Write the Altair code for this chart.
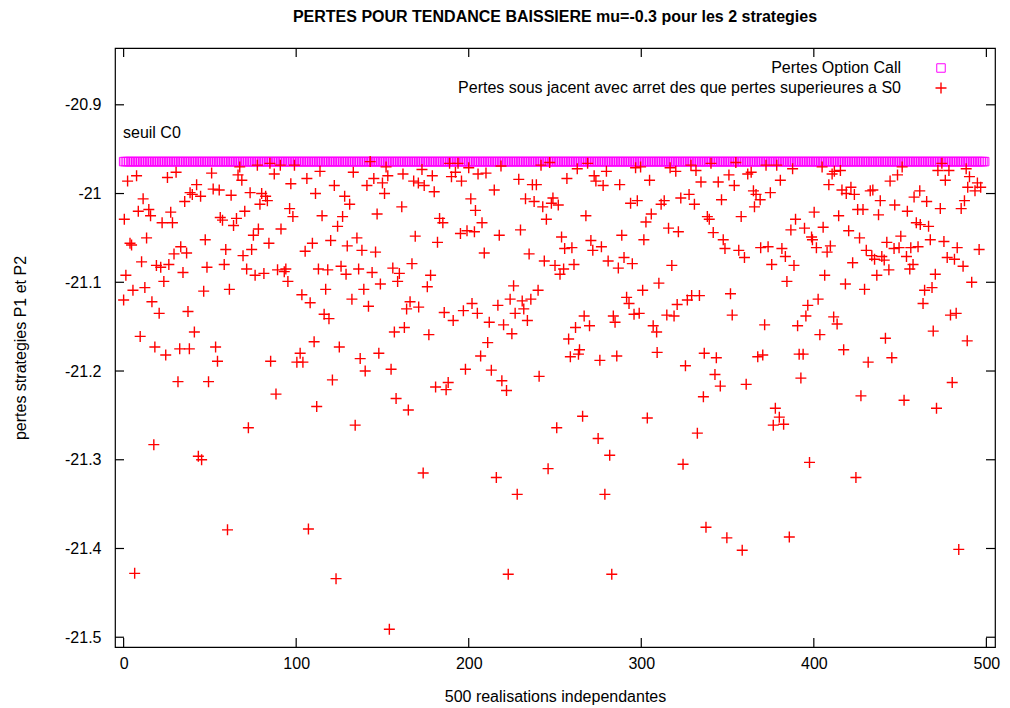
import altair as alt
import pandas as pd

# ---------------- data ----------------
title_text = "PERTES POUR TENDANCE BAISSIERE mu=-0.3 pour les 2 strategies"
x_title = "500 realisations independantes"
y_title = "pertes strategies P1 et P2"
legend_labels = ["Pertes Option Call",
                 "Pertes sous jacent avec arret des que pertes superieures a S0"]
seuil_label = "seuil C0"

x_ticks = [0, 100, 200, 300, 400, 500]
y_ticks = [-21.5, -21.4, -21.3, -21.2, -21.1, -21.0, -20.9]

# Option call losses: constant level for the 500 realisations
call_x = list(range(500))
call_level = -20.964
call_y = [call_level] * 500

# Underlying losses (red +)
red_x = [
 2.3,7.5,25.4,30.4,38.5,39.8,11.3,35.4,8.5,14.6,15.6,27.3,0.4,22.3,28.3,13.3,3.7,4.6,33.1,29.2,36.5,10.4,19.0,21.5,26.2,34.4,1.3,23.3,5.4,12.3,0.0,16.4,20.6,37.3,9.6,18.1,24.4,32.5,38.1,31.5,17.5,6.4,
 67.3,77.5,84.8,51.0,66.3,68.5,42.3,44.6,51.9,55.4,62.3,73.3,80.0,82.3,83.3,79.0,70.2,56.0,57.3,65.4,63.7,78.1,75.2,47.3,84.2,59.2,74.2,69.2,48.3,58.3,71.3,76.2,81.3,46.4,61.3,41.0,53.3,54.4,85.2,49.2,72.3,43.3,45.2,60.2,
 90.8,99.0,87.3,113.8,106.2,96.9,122.1,111.2,128.1,96.2,98.1,115.0,126.9,91.2,124.0,109.4,105.2,120.0,129.6,89.2,94.0,93.1,112.9,118.3,126.0,128.9,95.2,103.3,108.1,117.1,116.2,119.0,110.4,125.0,102.3,100.4,103.9,121.0,88.3,111.9,107.1,123.1,
 142.9,133.1,152.1,145.0,153.1,161.9,172.9,141.0,150.0,168.1,170.8,174.2,151.2,131.0,161.2,146.9,135.2,169.0,138.1,146.0,167.1,136.2,144.0,156.0,159.8,158.8,148.8,139.2,132.3,141.9,166.0,164.0,171.0,156.9,162.7,137.1,147.9,140.0,155.0,157.9,165.0,134.2,173.6,154.0,
 188.9,193.8,200.0,218.7,178.9,190.0,192.3,195.8,205.4,210.0,180.0,214.8,201.2,203.9,183.1,185.0,207.7,195.2,199.0,203.3,217.7,181.9,209.0,177.9,176.0,201.9,216.9,185.8,196.9,205.0,191.0,211.9,220.2,176.9,211.0,206.9,198.1,213.1,219.2,180.8,188.1,186.9,216.0,
 241.9,246.9,262.9,229.0,256.9,236.9,239.2,232.9,237.9,242.9,248.8,247.9,251.9,245.0,230.0,253.8,255.6,259.8,235.0,243.8,250.0,255.0,252.9,261.0,226.0,240.2,224.0,231.0,236.0,231.9,226.9,234.0,225.0,261.9,257.9,264.2,263.6,258.9,240.8,221.9,251.0,246.0,228.1,222.9,
 268.9,279.8,296.7,299.6,272.7,273.7,277.9,287.5,304.8,293.8,297.7,267.9,305.8,302.7,288.7,270.8,271.9,276.9,301.5,280.8,286.7,290.0,294.8,310.2,300.8,291.5,292.9,266.9,283.8,284.8,295.8,298.8,270.0,306.9,308.9,309.2,276.0,285.8,266.0,303.5,275.0,281.7,278.9,282.9,
 316.7,320.0,328.8,331.7,340.4,354.8,350.8,353.9,334.6,344.6,322.9,327.7,330.8,311.5,313.3,346.5,338.3,339.4,315.8,321.5,341.7,347.5,348.5,317.7,320.8,326.7,329.2,333.7,351.7,314.8,319.0,352.7,336.5,343.5,325.6,342.7,345.8,336.0,332.5,324.2,337.5,349.6,
 372.3,378.5,387.7,361.7,363.7,380.6,365.0,366.5,368.9,365.6,374.8,357.9,389.4,400.2,386.7,394.6,398.7,399.2,356.5,359.8,369.2,373.5,381.5,383.5,375.6,388.5,384.4,396.5,395.4,371.5,390.6,391.5,393.8,367.5,370.4,392.5,360.8,377.7,380.0,376.5,382.5,397.5,385.8,358.5,
 404.8,410.6,411.9,415.4,444.2,408.7,416.3,418.8,421.5,423.5,432.7,434.2,438.5,414.4,425.4,428.5,437.5,405.4,420.2,426.5,401.5,409.6,407.7,442.3,430.4,433.6,435.2,439.4,440.8,422.5,443.5,406.3,436.5,418.3,429.4,402.5,411.5,413.5,403.5,441.5,417.3,431.5,445.2,427.3,424.4,
 451.2,448.5,471.9,474.2,478.3,488.3,476.2,490.2,489.2,461.4,458.1,465.4,446.9,454.2,473.3,485.4,487.3,459.4,461.7,466.5,450.4,446.5,449.4,456.2,460.4,467.5,475.4,483.1,453.7,477.3,481.5,457.5,455.6,486.5,470.4,464.2,468.5,463.3,479.2,482.5,469.2,488.9,480.2,452.3,471.1,484.0,
 494.8,496.7,493.4,495.8,491.5,
]
red_y = [
 -20.986,-20.980,-20.982,-20.976,-20.999,-21.001,-21.006,-21.009,-21.020,-21.018,-21.025,-21.021,-21.029,-21.033,-21.033,-21.050,-21.056,-21.058,-21.060,-21.068,-21.067,-21.077,-21.081,-21.083,-21.080,-21.089,-21.092,-21.099,-21.109,-21.106,-21.120,-21.122,-21.135,-21.133,-21.161,-21.173,-21.182,-21.175,-21.175,-21.212,-21.283,-21.428,
 -20.970,-20.968,-20.966,-20.977,-20.979,-20.985,-20.990,-21.003,-20.995,-20.996,-21.002,-20.999,-21.000,-21.003,-21.008,-21.012,-21.020,-21.027,-21.030,-21.028,-21.036,-21.040,-21.047,-21.052,-21.056,-21.063,-21.063,-21.070,-21.083,-21.080,-21.085,-21.092,-21.090,-21.110,-21.108,-21.156,-21.173,-21.189,-21.189,-21.212,-21.264,-21.296,-21.300,-21.379,
 -20.968,-20.968,-20.978,-20.975,-20.983,-20.989,-20.991,-21.000,-21.003,-21.017,-21.026,-21.025,-21.026,-21.040,-21.037,-21.056,-21.065,-21.053,-21.059,-21.086,-21.085,-21.088,-21.085,-21.086,-21.082,-21.091,-21.099,-21.114,-21.123,-21.108,-21.136,-21.141,-21.167,-21.173,-21.180,-21.190,-21.190,-21.210,-21.226,-21.240,-21.378,-21.434,
 -20.964,-20.976,-20.970,-20.983,-20.980,-20.978,-20.973,-20.991,-20.988,-20.986,-20.988,-20.991,-21.000,-21.012,-21.015,-21.023,-21.050,-21.048,-21.064,-21.066,-21.079,-21.085,-21.089,-21.084,-21.090,-21.099,-21.102,-21.108,-21.119,-21.127,-21.122,-21.130,-21.128,-21.156,-21.151,-21.186,-21.180,-21.200,-21.198,-21.231,-21.244,-21.261,-21.315,-21.491,
 -20.966,-20.966,-20.971,-20.969,-20.980,-20.981,-20.976,-20.986,-20.978,-20.977,-20.998,-20.996,-21.006,-21.019,-21.028,-21.033,-21.033,-21.045,-21.042,-21.043,-21.047,-21.055,-21.067,-21.092,-21.105,-21.124,-21.126,-21.134,-21.132,-21.135,-21.143,-21.145,-21.148,-21.159,-21.168,-21.183,-21.198,-21.199,-21.211,-21.218,-21.213,-21.221,-21.320,
 -20.968,-20.965,-20.972,-20.984,-20.983,-20.990,-20.990,-21.006,-21.009,-21.015,-21.005,-21.011,-21.013,-21.029,-21.041,-21.049,-21.062,-21.061,-21.068,-21.076,-21.081,-21.085,-21.091,-21.080,-21.104,-21.109,-21.119,-21.121,-21.119,-21.130,-21.135,-21.143,-21.158,-21.151,-21.164,-21.176,-21.181,-21.184,-21.206,-21.222,-21.264,-21.310,-21.339,-21.429,
 -20.966,-20.975,-20.971,-20.970,-20.980,-20.986,-20.991,-20.990,-20.985,-21.011,-21.008,-21.025,-21.023,-21.032,-21.047,-21.053,-21.064,-21.060,-21.052,-21.076,-21.084,-21.072,-21.079,-21.101,-21.109,-21.117,-21.124,-21.138,-21.138,-21.145,-21.136,-21.135,-21.149,-21.149,-21.156,-21.179,-21.188,-21.183,-21.251,-21.253,-21.276,-21.295,-21.339,-21.429,
 -20.971,-20.975,-20.968,-20.974,-20.966,-20.965,-20.979,-20.991,-20.987,-20.987,-21.005,-21.001,-21.012,-21.012,-21.008,-21.007,-21.026,-21.029,-21.039,-21.043,-21.044,-21.052,-21.062,-21.081,-21.125,-21.120,-21.115,-21.115,-21.113,-21.137,-21.138,-21.137,-21.180,-21.185,-21.194,-21.204,-21.217,-21.229,-21.270,-21.305,-21.376,-21.388,
 -20.968,-20.968,-20.972,-20.978,-20.976,-20.985,-20.997,-21.001,-21.007,-21.015,-20.999,-21.026,-21.029,-21.021,-21.041,-21.039,-21.049,-21.052,-21.064,-21.072,-21.061,-21.060,-21.062,-21.071,-21.080,-21.081,-21.099,-21.126,-21.138,-21.148,-21.149,-21.181,-21.181,-21.184,-21.182,-21.208,-21.215,-21.242,-21.252,-21.261,-21.260,-21.303,-21.387,-21.402,
 -20.970,-20.978,-20.975,-20.974,-20.986,-20.990,-20.996,-21.000,-20.993,-21.001,-20.997,-20.996,-21.008,-21.025,-21.018,-21.018,-21.024,-21.038,-21.042,-21.050,-21.061,-21.059,-21.066,-21.055,-21.064,-21.070,-21.074,-21.071,-21.075,-21.078,-21.086,-21.092,-21.092,-21.102,-21.108,-21.119,-21.139,-21.147,-21.159,-21.163,-21.176,-21.190,-21.185,-21.228,-21.320,
 -20.970,-20.979,-20.974,-20.966,-20.974,-20.972,-20.985,-20.981,-20.993,-20.997,-21.004,-21.009,-21.013,-21.020,-21.017,-21.017,-21.008,-21.033,-21.035,-21.037,-21.048,-21.062,-21.061,-21.061,-21.060,-21.052,-21.054,-21.061,-21.071,-21.072,-21.074,-21.080,-21.085,-21.082,-21.091,-21.109,-21.106,-21.124,-21.137,-21.135,-21.155,-21.166,-21.213,-21.233,-21.242,-21.401,
 -20.988,-20.993,-20.997,-21.063,-21.100,
]

# ---------------- chart ----------------
FONT = "Liberation Sans"
W, H = 880, 599
X_DOM = [-5, 505]
Y_DOM = [-21.511, -20.836]
MAGENTA = "#ff00ff"
RED = "#ff0000"
CROSS = "M-1,0L1,0M0,-1L0,1"

xs = alt.Scale(domain=X_DOM, nice=False, zero=False)
ys = alt.Scale(domain=Y_DOM, nice=False, zero=False)

x_axis = alt.Axis(
    values=x_ticks, title=x_title, ticks=False, tickSize=0, domain=False, grid=False,
    labelFont=FONT, labelFontSize=16, labelPadding=8, labelColor="black",
    titleFont=FONT, titleFontSize=16, titleFontWeight="normal", titlePadding=17,
    titleColor="black")
y_axis = alt.Axis(
    values=y_ticks, title=y_title, ticks=False, tickSize=0, domain=False, grid=False,
    labelExpr="'-' + format(abs(datum.value), '')",
    labelFont=FONT, labelFontSize=16, labelPadding=14, labelColor="black",
    titleFont=FONT, titleFontSize=16, titleFontWeight="normal", titlePadding=36,
    titleColor="black")

df_call = pd.DataFrame({"x": call_x, "y": call_y})
df_red = pd.DataFrame({"x": red_x, "y": red_y})
df_xt = pd.DataFrame({"v": x_ticks})
df_yt = pd.DataFrame({"v": y_ticks})

call_layer = alt.Chart(df_call).mark_point(
    shape="square", filled=False, size=72, strokeWidth=1, color=MAGENTA, opacity=1
).encode(
    x=alt.X("x:Q", scale=xs, axis=x_axis),
    y=alt.Y("y:Q", scale=ys, axis=y_axis),
)

red_layer = alt.Chart(df_red).mark_point(
    shape=CROSS, filled=False, size=121, strokeWidth=1.4, color=RED, opacity=1
).encode(
    x=alt.X("x:Q", scale=xs, axis=x_axis),
    y=alt.Y("y:Q", scale=ys, axis=y_axis),
)

TL = 9
tick_style = dict(color="black", strokeWidth=1.2)
ytick_left = alt.Chart(df_yt).mark_rule(**tick_style).encode(
    y=alt.Y("v:Q", scale=ys, axis=y_axis), x=alt.value(0), x2=alt.value(TL))
ytick_right = alt.Chart(df_yt).mark_rule(**tick_style).encode(
    y=alt.Y("v:Q", scale=ys, axis=y_axis), x=alt.value(W - TL), x2=alt.value(W))
xtick_bottom = alt.Chart(df_xt).mark_rule(**tick_style).encode(
    x=alt.X("v:Q", scale=xs, axis=x_axis), y=alt.value(H - TL), y2=alt.value(H))
xtick_top = alt.Chart(df_xt).mark_rule(**tick_style).encode(
    x=alt.X("v:Q", scale=xs, axis=x_axis), y=alt.value(0), y2=alt.value(TL))

# legend (gnuplot style key, top right inside the frame)
df_leg = pd.DataFrame({"label": legend_labels})
leg_text0 = alt.Chart(df_leg.iloc[[0]]).mark_text(
    align="right", baseline="middle", font=FONT, fontSize=16, color="black"
).encode(text="label:N", x=alt.value(786), y=alt.value(20))
leg_text1 = alt.Chart(df_leg.iloc[[1]]).mark_text(
    align="right", baseline="middle", font=FONT, fontSize=16, color="black"
).encode(text="label:N", x=alt.value(786), y=alt.value(40))
leg_sq = alt.Chart(df_leg.iloc[[0]]).mark_point(
    shape="square", filled=False, size=72, strokeWidth=1, color=MAGENTA, opacity=1
).encode(x=alt.value(826), y=alt.value(20))
leg_cross = alt.Chart(df_leg.iloc[[1]]).mark_point(
    shape=CROSS, filled=False, size=121, strokeWidth=1.4, color=RED, opacity=1
).encode(x=alt.value(826), y=alt.value(40))

seuil = alt.Chart(pd.DataFrame({"t": [seuil_label]})).mark_text(
    align="left", baseline="middle", font=FONT, fontSize=16, color="black"
).encode(text="t:N", x=alt.value(8), y=alt.value(85))

chart = alt.layer(
    call_layer, red_layer, ytick_left, ytick_right, xtick_bottom, xtick_top,
    leg_text0, leg_text1, leg_sq, leg_cross, seuil
).properties(
    width=W, height=H,
    background="white",
    title=alt.TitleParams(text=title_text, font=FONT, fontSize=16, fontWeight="bold",
                          anchor="middle", offset=22, color="black"),
    autosize=alt.AutoSizeParams(type="none"),
    padding={"left": 107, "top": 40, "right": 7, "bottom": 60},
).configure_view(stroke="black", strokeWidth=1.2)

chart.save("out.html", embed_options={"renderer": "svg", "actions": False})
